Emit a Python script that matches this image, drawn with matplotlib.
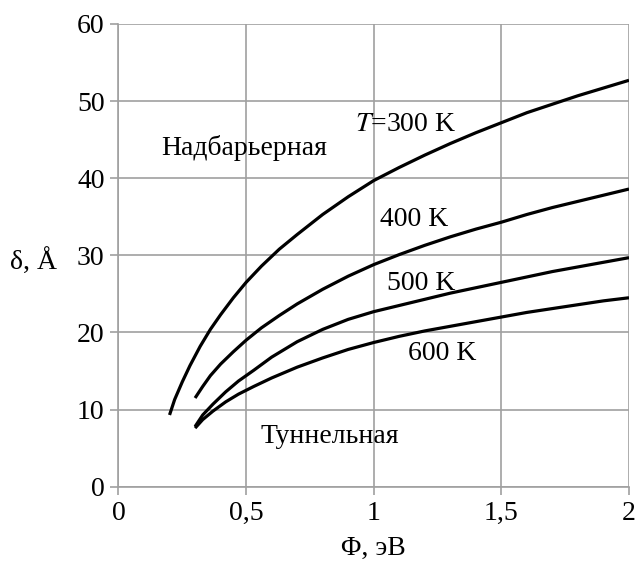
import matplotlib
matplotlib.use('Agg')
import matplotlib.pyplot as plt

plt.rcParams['font.family'] = ['Liberation Serif', 'DejaVu Serif']
plt.rcParams['mathtext.fontset'] = 'stix'

# данные: Ф (эВ) и δ (Å) для каждой температуры
phi_300 = [0.2, 0.22, 0.25, 0.28, 0.32, 0.36, 0.4, 0.45, 0.5, 0.56, 0.63, 0.7, 0.8, 0.9,
           1.0, 1.1, 1.2, 1.3, 1.4, 1.5, 1.6, 1.7, 1.8, 1.9, 2.0]
d_300 = [9.3, 11.3, 13.6, 15.7, 18.2, 20.4, 22.3, 24.5, 26.5, 28.6, 30.8, 32.7, 35.3, 37.6,
         39.7, 41.4, 43.0, 44.5, 45.9, 47.2, 48.5, 49.6, 50.7, 51.7, 52.7]

phi_400 = [0.3, 0.33, 0.36, 0.4, 0.45, 0.5, 0.56, 0.63, 0.7, 0.8, 0.9,
           1.0, 1.1, 1.2, 1.3, 1.4, 1.5, 1.6, 1.7, 1.8, 1.9, 2.0]
d_400 = [11.5, 13.0, 14.4, 15.9, 17.5, 19.0, 20.6, 22.2, 23.7, 25.6, 27.3,
         28.8, 30.1, 31.3, 32.4, 33.4, 34.3, 35.3, 36.2, 37.0, 37.8, 38.6]

phi_500 = [0.3, 0.33, 0.37, 0.42, 0.47, 0.53, 0.6, 0.7, 0.8, 0.9,
           1.0, 1.1, 1.2, 1.3, 1.4, 1.5, 1.6, 1.7, 1.8, 1.9, 2.0]
d_500 = [7.8, 9.3, 10.7, 12.3, 13.7, 15.1, 16.8, 18.8, 20.4, 21.7,
         22.7, 23.5, 24.3, 25.1, 25.8, 26.5, 27.2, 27.9, 28.5, 29.1, 29.7]

phi_600 = [0.3, 0.33, 0.37, 0.42, 0.47, 0.53, 0.6, 0.7, 0.8, 0.9,
           1.0, 1.1, 1.2, 1.3, 1.4, 1.5, 1.6, 1.7, 1.8, 1.9, 2.0]
d_600 = [7.6, 8.7, 9.8, 11.0, 12.0, 13.0, 14.1, 15.5, 16.7, 17.8,
         18.7, 19.5, 20.2, 20.8, 21.4, 22.0, 22.6, 23.1, 23.6, 24.1, 24.5]

x_ticks = [0, 0.5, 1, 1.5, 2]
x_tick_labels = ['0', '0,5', '1', '1,5', '2']
y_ticks = [0, 10, 20, 30, 40, 50, 60]

fig = plt.figure(figsize=(6.36, 5.66), dpi=100)
ax = fig.add_axes([0.1863, 0.1401, 0.989 - 0.1863, 0.9576 - 0.1401])

grid_col = '#a0a0a0'
for curve_x, curve_y in [(phi_300, d_300), (phi_400, d_400), (phi_500, d_500), (phi_600, d_600)]:
    ax.plot(curve_x, curve_y, color='black', lw=2.3, solid_capstyle='butt',
            solid_joinstyle='round', zorder=3)

ax.set_xlim(0, 2)
ax.set_ylim(0, 60)
ax.set_xticks(x_ticks)
ax.set_xticklabels(x_tick_labels)
ax.set_yticks(y_ticks)
ax.grid(True, color=grid_col, lw=1.2)
ax.set_axisbelow(True)
for s in ['top', 'right']:
    ax.spines[s].set_visible(False)
for s in ['left', 'bottom']:
    ax.spines[s].set_color(grid_col)
    ax.spines[s].set_linewidth(1.2)
ax.tick_params(colors=grid_col, labelcolor='black', length=6, width=1.2,
               labelsize=20, pad=4)

# подписи кривых
fs = 20
ax.text(0.169, 43.9, 'Надбарьерная', fontsize=fs, va='center')
ax.text(0.927, 47.0, r'$T$=300 K', fontsize=fs, va='center')
ax.text(1.024, 34.6, '400 K', fontsize=fs, va='center')
ax.text(1.05, 26.4, '500 K', fontsize=fs, va='center')
ax.text(1.134, 17.3, '600 K', fontsize=fs, va='center')
ax.text(0.555, 6.5, 'Туннельная', fontsize=fs, va='center')

fig.text(34 / 636, 1 - 262 / 566, 'δ, Å', fontsize=20, ha='center', va='center')
fig.text(373 / 636, 1 - 548 / 566, 'Φ, эВ', fontsize=20, ha='center', va='center')

fig.savefig('out.png', dpi=100)
